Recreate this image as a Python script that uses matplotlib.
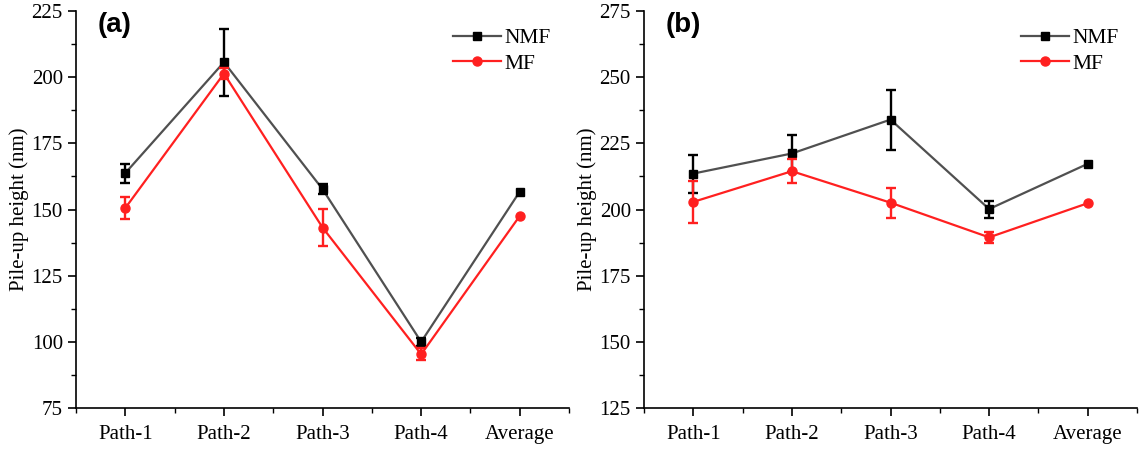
import numpy as np
import matplotlib
matplotlib.use("Agg")
import matplotlib.pyplot as plt
from matplotlib.ticker import MultipleLocator, FixedLocator
from matplotlib.lines import Line2D

plt.rcParams["font.family"] = ["Liberation Serif", "DejaVu Serif"]

categories = ["Path-1", "Path-2", "Path-3", "Path-4", "Average"]

# panel (a)
nmf_a = [163.8, 205.7, 157.7, 100.0, 156.8]
nmf_a_err = [3.6, 12.7, 1.9, 1.4, 0.0]
mf_a = [150.6, 201.4, 143.2, 95.3, 147.6]
mf_a_err = [4.1, 2.0, 7.0, 2.3, 0.0]

# panel (b)
nmf_b = [213.6, 221.2, 234.0, 200.2, 217.3]
nmf_b_err = [7.2, 7.1, 11.3, 3.2, 0.0]
mf_b = [202.9, 214.5, 202.6, 189.5, 202.4]
mf_b_err = [7.9, 4.6, 5.6, 2.2, 0.0]

panels = [
    ("(a)", nmf_a, nmf_a_err, mf_a, mf_a_err, (75, 225)),
    ("(b)", nmf_b, nmf_b_err, mf_b, mf_b_err, (125, 275)),
]

GRAY = "#505050"
RED = "#ff2020"

fig = plt.figure(figsize=(11.4, 4.5), dpi=100)
lefts = [0.0667, 0.5649]
x = np.arange(1, len(categories) + 1)


def draw_series(ax, y, err, line_c, mark_c, marker, ms, z):
    y = np.asarray(y)
    err = np.asarray(err)
    ax.plot(x, y, color=line_c, lw=1.6, zorder=z)
    has = err > 0
    ax.errorbar(x[has], y[has], yerr=err[has], fmt="none", ecolor=mark_c,
                elinewidth=1.7, capsize=3.4, capthick=1.7, zorder=z + 0.1)
    ax.plot(x, y, ls="none", marker=marker, ms=ms, mfc=mark_c, mec=mark_c,
            zorder=z + 0.2)


for left, (tag, nmf, nmf_err, mf, mf_err, ylim) in zip(lefts, panels):
    ax = fig.add_axes([left, 0.0933, 0.4325, 0.882])

    draw_series(ax, nmf, nmf_err, GRAY, "black", "s", 5.5, 2)
    draw_series(ax, mf, mf_err, RED, RED, "o", 6.5, 3)

    ax.set_xlim(0.5, 5.5)
    ax.set_ylim(*ylim)
    ax.set_xticks(x)
    ax.set_xticklabels(categories)
    ax.xaxis.set_minor_locator(FixedLocator(np.arange(0.5, 5.6, 1.0)))
    ax.yaxis.set_major_locator(MultipleLocator(25))
    ax.yaxis.set_minor_locator(MultipleLocator(12.5))

    ax.tick_params(axis="both", which="major", direction="out", length=6,
                   width=1.2, labelsize=15, colors="black")
    ax.tick_params(axis="both", which="minor", direction="out", length=3.5,
                   width=1.0)
    ax.tick_params(axis="x", which="major", pad=6)

    for side in ["top", "right"]:
        ax.spines[side].set_visible(False)
    for side in ["left", "bottom"]:
        ax.spines[side].set_linewidth(1.2)

    ax.set_ylabel("Pile-up height (nm)", fontsize=15, labelpad=1.5)

    ax.text(0.043, 0.998, tag, transform=ax.transAxes, ha="left", va="top",
            fontsize=20, fontweight="bold", family="Liberation Sans")

    handles = [
        Line2D([], [], color=GRAY, lw=1.6, marker="s", ms=5.5,
               mfc="black", mec="black"),
        Line2D([], [], color=RED, lw=1.6, marker="o", ms=6.5,
               mfc=RED, mec=RED),
    ]
    ax.legend(handles, ["NMF", "MF"], loc="upper left",
              bbox_to_anchor=(0.765, 0.957), frameon=False, fontsize=15.5,
              handlelength=2.2, handletextpad=0.2, labelspacing=0.25,
              borderpad=0.0, borderaxespad=0.0)

fig.savefig("out.png", dpi=100)
